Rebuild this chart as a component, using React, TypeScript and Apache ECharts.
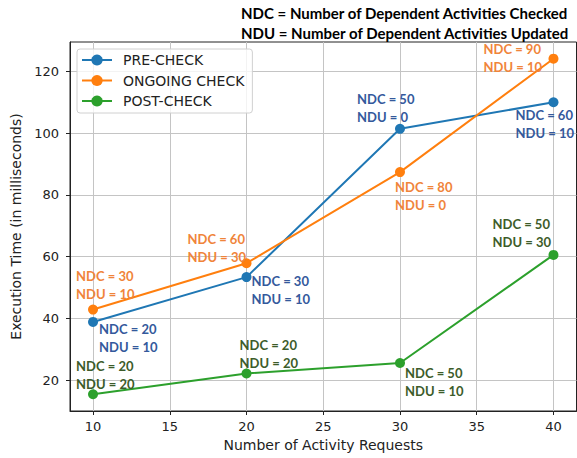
import React, { useEffect, useRef } from "react";
import * as echarts from "echarts";

const xValues = [10, 20, 30, 40];
const preCheck = [38.9, 53.4, 101.4, 110.0];
const ongoingCheck = [42.9, 57.9, 87.4, 124.1];
const postCheck = [15.5, 22.2, 25.6, 60.6];

const preNDC = [20, 30, 50, 60];
const preNDU = [10, 10, 0, 10];
const ongoingNDC = [30, 60, 80, 90];
const ongoingNDU = [10, 30, 0, 10];
const postNDC = [20, 20, 50, 50];
const postNDU = [20, 20, 10, 30];

const xTicks = [10, 15, 20, 25, 30, 35, 40];
const yTicks = [20, 40, 60, 80, 100, 120];

const seriesNames = ["PRE-CHECK", "ONGOING CHECK", "POST-CHECK"];
const headerLines = [
  "NDC = Number of Dependent Activities Checked",
  "NDU = Number of Dependent Activities Updated",
];

// label placement (pixel offsets from each point), styling only
const preOffsets = [[6, -2], [5, -5], [-43, -39], [-38, 4]];
const ongoingOffsets = [[-17, -43], [-59, -33], [-5, 6], [-70, -19]];
const postOffsets = [[-17, -37], [-7, -38], [5, 1], [-61, -40]];

const lineColors = ["#1f77b4", "#ff7f0e", "#2ca02c"];
const textColors = ["#34599c", "#f0843a", "#3d5c2a"];

function buildData(
  ys: number[],
  ndc: number[],
  ndu: number[],
  offsets: number[][],
  color: string
) {
  return ys.map((y, i) => ({
    value: [xValues[i], y],
    label: {
      show: true,
      position: "inside",
      align: "left",
      verticalAlign: "top",
      offset: offsets[i],
      formatter: `NDC = ${ndc[i]}\nNDU = ${ndu[i]}`,
      color,
      fontFamily: "Lato",
      fontWeight: "bold",
      fontSize: 13,
      lineHeight: 18,
    },
  }));
}

export default function App() {
  const ref = useRef<HTMLDivElement>(null);
  useEffect(() => {
    document.body.style.margin = "0";
    const chart = echarts.init(ref.current!, null, { renderer: "svg" });
    const axisFont = { fontFamily: "DejaVu Sans", color: "#222" };
    const mkSeries = (
      i: number,
      ys: number[],
      ndc: number[],
      ndu: number[],
      off: number[][]
    ) => ({
      name: seriesNames[i],
      type: "line",
      data: buildData(ys, ndc, ndu, off, textColors[i]),
      symbol: "circle",
      symbolSize: 10,
      color: lineColors[i],
      lineStyle: { width: 2, color: lineColors[i] },
      itemStyle: { color: lineColors[i] },
      emphasis: { disabled: true },
      z: 2 + i,
    });
    chart.setOption({
      animation: false,
      backgroundColor: "#ffffff",
      grid: {
        left: 70,
        top: 42,
        right: 0.5,
        bottom: 47,
        show: true,
        borderColor: "#222",
        borderWidth: 1,
        backgroundColor: "transparent",
      },
      graphic: headerLines.map((t, i) => ({
        type: "text",
        left: 241,
        top: 5 + i * 20,
        style: {
          text: t,
          font: "bold 15px Lato",
          fill: "#000",
        },
      })),
      legend: {
        left: 77,
        top: 49,
        orient: "vertical",
        itemWidth: 30,
        itemHeight: 14,
        itemGap: 6.5,
        padding: [4, 8, 5, 4],
        borderColor: "#d0d0d0",
        borderWidth: 1,
        borderRadius: 3,
        backgroundColor: "rgba(255,255,255,0.8)",
        textStyle: { fontFamily: "DejaVu Sans", fontSize: 14, color: "#222", padding: [0, 0, 0, 6] },
        data: seriesNames,
      },
      xAxis: {
        type: "value",
        min: 8.5,
        max: 41.5,
        name: "Number of Activity Requests",
        nameLocation: "middle",
        nameGap: 27,
        nameTextStyle: { ...axisFont, fontSize: 14 },
        axisLine: { show: true, onZero: false, lineStyle: { color: "#222" } },
        axisTick: { show: true, length: 4, customValues: xTicks, lineStyle: { color: "#222" } },
        axisLabel: { customValues: xTicks, margin: 9, fontSize: 13, ...axisFont },
        splitLine: { show: true, lineStyle: { color: "#c4c4c4", width: 1 } },
      },
      yAxis: {
        type: "value",
        min: 10.07,
        max: 129.5,
        name: "Execution Time (in milliseconds)",
        nameLocation: "middle",
        nameGap: 42,
        nameTextStyle: { ...axisFont, fontSize: 14 },
        axisLine: { show: true, onZero: false, lineStyle: { color: "#222" } },
        axisTick: { show: true, length: 4, customValues: yTicks, lineStyle: { color: "#222" } },
        axisLabel: { customValues: yTicks, margin: 11, fontSize: 13, ...axisFont },
        splitLine: { show: true, lineStyle: { color: "#c4c4c4", width: 1 } },
      },
      series: [
        mkSeries(0, preCheck, preNDC, preNDU, preOffsets),
        mkSeries(1, ongoingCheck, ongoingNDC, ongoingNDU, ongoingOffsets),
        mkSeries(2, postCheck, postNDC, postNDU, postOffsets),
      ],
    });
    return () => chart.dispose();
  }, []);
  return <div ref={ref} style={{ width: 577, height: 458 }} />;
}
